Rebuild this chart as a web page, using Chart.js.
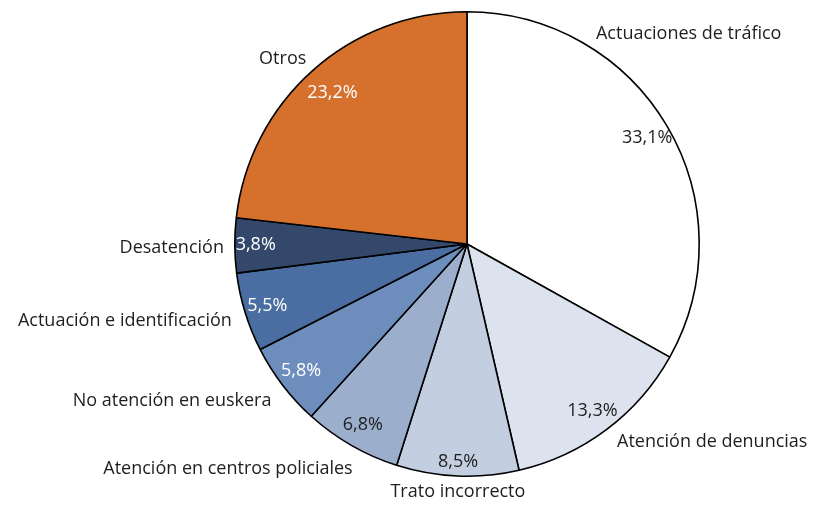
<!DOCTYPE html>
<html lang="es">
<head>
<meta charset="UTF-8">
<title>Quejas por tipo</title>
<script src="https://cdn.jsdelivr.net/npm/chart.js@4"></script>
<style>
  html, body { margin: 0; padding: 0; background: #fff; }
  #wrap { width: 816px; height: 507px; }
</style>
</head>
<body>
<div id="wrap"><canvas id="myChart" width="816" height="507"></canvas></div>

<script>
    const categories = [
        'Actuaciones de tráfico',
        'Atención de denuncias',
        'Trato incorrecto',
        'Atención en centros policiales',
        'No atención en euskera',
        'Actuación e identificación',
        'Desatención',
        'Otros'
    ];
    const shares = [33.1, 13.3, 8.5, 6.8, 5.8, 5.5, 3.8, 23.2];

    const sliceColors = ['#ffffff', '#dce3ee', '#c3cee0', '#9bafcd', '#6d8dbd', '#4a6da2', '#33486b', '#d5702d'];
    const valueColors = ['#1e1e1e', '#1e1e1e', '#1e1e1e', '#1e1e1e', '#ffffff', '#ffffff', '#ffffff', '#ffffff'];

    // where the percentages sit, as a fraction of the radius along each slice's middle
    const valueRadius = [0.9, 0.9, 0.94, 0.9, 0.9, 0.9, 0.91, 0.87];
    // category names: angle clockwise from 12 o'clock, distance in radii, text alignment
    const nameSpots = [
        [31.5, 1.063, 'left'],
        [142.9, 1.071, 'left'],
        [182.1, 1.069, 'center'],
        [206.9, 1.088, 'right'],
        [231.3, 1.079, 'right'],
        [252.0, 1.065, 'right'],
        [269.1, 1.047, 'right'],
        [319.1, 1.057, 'right']
    ];

    const FONT = '18px "Open Sans", "Noto Sans", sans-serif';

    const pieLabels = {
        id: 'pieLabels',
        afterDatasetsDraw(chart) {
            const c = chart.ctx;
            const arcs = chart.getDatasetMeta(0).data;
            c.save();
            c.font = FONT;
            c.textBaseline = 'middle';
            arcs.forEach((arc, i) => {
                const p = arc.getProps(['x', 'y', 'startAngle', 'endAngle', 'outerRadius'], true);
                const mid = (p.startAngle + p.endAngle) / 2;
                const rv = p.outerRadius * valueRadius[i];
                c.fillStyle = valueColors[i];
                c.textAlign = 'center';
                c.fillText(shares[i].toFixed(1).replace('.', ',') + '%',
                    p.x + Math.cos(mid) * rv, p.y + Math.sin(mid) * rv);

                const s = nameSpots[i];
                const a = (s[0] - 90) * Math.PI / 180;
                const rn = p.outerRadius * s[1];
                c.fillStyle = '#1e1e1e';
                c.textAlign = s[2];
                c.fillText(categories[i], p.x + Math.cos(a) * rn, p.y + Math.sin(a) * rn);
            });
            c.restore();
        }
    };

    const ctx = document.getElementById('myChart').getContext('2d');

    const chart = new Chart(ctx, {
        type: 'pie',
        data: {
            labels: categories,
            datasets: [{
                data: shares,
                backgroundColor: sliceColors,
                borderColor: '#000000',
                borderWidth: 1.6
            }]
        },
        options: {
            responsive: false,
            animation: false,
            layout: { padding: { left: 234, right: 116, top: 11, bottom: 30 } },
            plugins: {
                legend: { display: false },
                tooltip: { enabled: false }
            }
        },
        plugins: [pieLabels]
    });
</script>
</body>
</html>
